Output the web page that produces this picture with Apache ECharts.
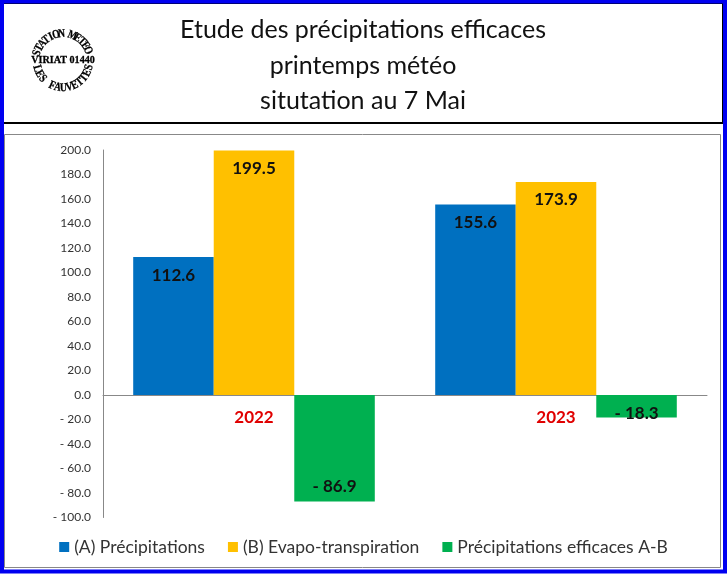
<!DOCTYPE html>
<html>
<head>
<meta charset="utf-8">
<script src="https://cdn.jsdelivr.net/npm/echarts@6/dist/echarts.min.js"></script>
<style>
html,body{margin:0;padding:0;background:#fff;}
#chart{width:727px;height:574px;}
</style>
</head>
<body>
<div id="chart"></div>
<script>
const categories = ['2022', '2023'];
const seriesNames = ['(A) Précipitations', '(B) Evapo-transpiration', 'Précipitations efficaces A-B'];
const precipitations = [112.6, 155.6];
const evapo = [199.5, 173.9];
const efficaces = [-86.9, -18.3];
const titleLines = ['Etude des précipitations efficaces', 'printemps météo', 'situtation au 7 Mai'];
const logoTop = 'STATION METEO';
const logoMiddle = 'VIRIAT 01440';
const logoBottom = 'LES FAUVETTES';

const FONT = 'Lato, "Open Sans", sans-serif';
const chart = echarts.init(document.getElementById('chart'), null, {renderer: 'canvas'});

function fmt(v) {
  return v < 0 ? '- ' + Math.abs(v).toFixed(1) : v.toFixed(1);
}

// logo letters along arcs
const logo = [];
const cx = 63, cy = 61, r = 27;
const logoFont = 'bold 12px "Liberation Serif", "DejaVu Serif", serif';
function arcText(str, a0, a1, outward) {
  const n = str.length;
  for (let i = 0; i < n; i++) {
    const a = (a0 + (a1 - a0) * i / (n - 1)) * Math.PI / 180;
    const ch = str[i];
    if (ch === ' ') continue;
    const rot = outward ? -(a + Math.PI / 2) : -(a - Math.PI / 2);
    logo.push({
      type: 'text', x: cx + r * Math.cos(a), y: cy + r * Math.sin(a), rotation: rot, scaleX: 0.8,
      style: {text: ch, x: 0, y: 0, align: 'center', verticalAlign: 'middle', font: logoFont, fill: '#000', stroke: '#000', lineWidth: 0.3}
    });
  }
}
arcText(logoTop, -163, -23, true);
arcText(logoBottom, 164, 14, false);
logo.push({type: 'text', x: cx, y: cy - 1, scaleX: 0.92, style: {text: logoMiddle, x: 0, y: 0, align: 'center', verticalAlign: 'middle', font: 'bold 11px "Liberation Serif", serif', fill: '#000', stroke: '#000', lineWidth: 0.3}});

const titleEls = titleLines.map((t, i) => ({
  type: 'text', x: 363, y: 30 + i * 35.5,
  style: {text: t, x: 0, y: 0, align: 'center', verticalAlign: 'middle', font: '25px ' + FONT, fill: '#111'}
}));

function barLabel(pos, dist) {
  return {show: true, position: pos, distance: dist, formatter: p => fmt(p.value),
    fontFamily: FONT, fontWeight: 'bold', fontSize: 17, color: '#111'};
}

// short negative bars: label slightly overflows the bar end, as in the reference
const efficacesData = efficaces.map(v => Math.abs(v) < 30 ? {value: v, label: {distance: -5}} : v);

chart.setOption({
  animation: false,
  backgroundColor: '#fff',
  graphic: [
    {type: 'rect', shape: {x: 4.5, y: 134.5, width: 716, height: 433}, style: {fill: 'none', stroke: '#888', lineWidth: 1}, z: -1},
    {type: 'rect', shape: {x: 3, y: 3, width: 720, height: 120}, style: {fill: 'none', stroke: '#000', lineWidth: 2}},
    {type: 'rect', shape: {x: 2, y: 1.5, width: 723, height: 570}, style: {fill: 'none', stroke: '#0000f0', lineWidth: 4}}
  ].concat(titleEls, logo),
  legend: {
    bottom: 13, left: 'center', itemWidth: 10, itemHeight: 10, itemGap: 23,
    icon: 'rect',
    textStyle: {fontFamily: FONT, fontSize: 17.5, color: '#333'},
    data: seriesNames
  },
  grid: {left: 103, top: 150, right: 20, bottom: 56.5},
  xAxis: {
    type: 'category', data: categories,
    axisLine: {onZero: true, lineStyle: {color: '#888'}},
    axisTick: {show: false},
    axisLabel: {show: false}
  },
  yAxis: {
    type: 'value', min: -100, max: 200, interval: 20,
    axisLine: {show: true, lineStyle: {color: '#888'}},
    axisTick: {show: false},
    splitLine: {show: false},
    axisLabel: {formatter: fmt, color: '#333', fontSize: 12, fontFamily: FONT, margin: 12}
  },
  series: [
    {name: seriesNames[0], type: 'bar', data: precipitations, itemStyle: {color: '#0070c0'},
      barGap: '0%', barCategoryGap: '20%', label: barLabel('insideTop', 10)},
    {name: seriesNames[1], type: 'bar', data: evapo, itemStyle: {color: '#ffc000'},
      barGap: '0%', barCategoryGap: '20%', label: barLabel('insideTop', 9)},
    {name: seriesNames[2], type: 'bar', data: efficacesData, itemStyle: {color: '#00b050'},
      barGap: '0%', barCategoryGap: '20%', label: barLabel('insideBottom', 6)},
    {name: 'categoryLabels', type: 'scatter', symbolSize: 0, silent: true, z: 5,
      itemStyle: {opacity: 1},
      data: categories.map(c => [c, 0]),
      label: {show: true, position: 'bottom', distance: 14, formatter: p => p.value[0],
        color: '#e00000', fontWeight: 'bold', fontSize: 17, fontFamily: FONT}}
  ]
});
</script>
</body>
</html>
